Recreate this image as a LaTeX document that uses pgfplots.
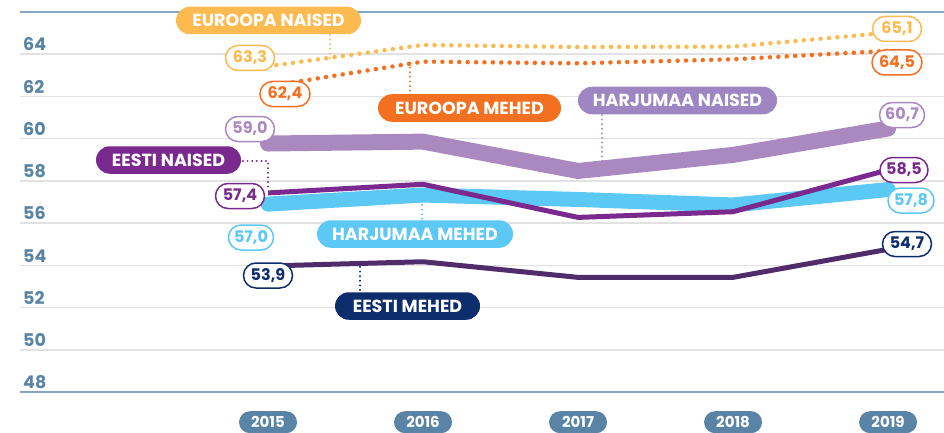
\documentclass[border=0pt]{standalone}
\usepackage{fontspec}
\setmainfont{Poppins}
\usepackage{pgfplots}
\pgfplotsset{compat=1.18}
\usetikzlibrary{shapes.misc}
\definecolor{axblue}{HTML}{5A84A6}
\definecolor{topline}{HTML}{86A6C0}
\definecolor{gridc}{HTML}{E2E2E2}
\definecolor{eurN}{HTML}{FDBA4F}
\definecolor{eurM}{HTML}{F37021}
\definecolor{harN}{HTML}{AA88C0}
\definecolor{harNpill}{HTML}{9D86C2}
\definecolor{harM}{HTML}{5CC8F4}
\definecolor{estN}{HTML}{7A2A8E}
\definecolor{estMline}{HTML}{512C6B}
\definecolor{estM}{HTML}{0D2D6C}
\tikzset{
 vlab/.style={draw=#1, text=#1, fill=white, line width=1.5pt, rounded rectangle, minimum height=25pt, inner xsep=3pt, inner ysep=0pt, font=\fontsize{16}{16}\selectfont\bfseries},
 npill/.style={fill=#1, text=white, rounded rectangle, minimum height=27.5pt, inner sep=0pt, font=\fontsize{17.5}{17.5}\selectfont\bfseries},
 lead/.style={draw=#1, line width=2.2pt, dash pattern=on 0pt off 4.6pt, line cap=round},
 dotl/.style={draw=#1, line width=4.5pt, dash pattern=on 0pt off 8.4pt, line cap=round, line join=round},
}
\begin{document}
\begin{tikzpicture}
\begin{axis}[
 at={(20pt,40pt)}, anchor=south west,
 scale only axis, width=924pt, height=380pt,
 xmin=2013.4, xmax=2019.361,
 ymin=48, ymax=66,
 axis line style={draw=none},
 major tick length=0pt,
 xtick={2015,2016,2017,2018,2019},
 xticklabel style={rounded rectangle, fill=axblue, text=white, minimum width=58pt, minimum height=22pt, inner sep=0pt, anchor=north, yshift=-19pt, font=\fontsize{15}{15}\selectfont\bfseries},
 ytick={50,52,54,56,58,60,62,64},
 ymajorgrids, grid style={gridc, line width=1.5pt},
 extra y ticks={48,66}, extra y tick labels={48,{}},
 extra y tick style={grid style={topline, line width=1.8pt}},
 yticklabel style={anchor=south west, text=axblue, font=\fontsize{17.5}{17.5}\selectfont\bfseries, inner sep=3pt},
 /pgf/number format/assume math mode=true,
 /pgf/number format/1000 sep={},
 clip=false,
]
% Harjumaa naised
\addplot[harN, line width=16pt, line cap=round, line join=round] coordinates {(2015,59.77) (2016,59.86) (2017,58.47) (2018,59.23) (2019,60.48)};
% Harjumaa mehed
\addplot[harM, line width=15pt, line cap=round, line join=round] coordinates {(2015,56.90) (2016,57.33) (2017,57.12) (2018,56.86) (2019,57.59)};
% Eesti naised
\addplot[estN, line width=5pt, line join=round] coordinates {(2015,57.43) (2016,57.84) (2017,56.27) (2018,56.54) (2019,58.52)};
% Eesti mehed
\addplot[estMline, line width=5pt, line join=round] coordinates {(2015,53.97) (2016,54.17) (2017,53.43) (2018,53.43) (2019,54.76)};
% Euroopa naised
\addplot[dotl=eurN] coordinates {(2015,63.43) (2016,64.44) (2017,64.34) (2018,64.36) (2019,65.02)};
% Euroopa mehed
\addplot[dotl=eurM] coordinates {(2015,62.48) (2016,63.65) (2017,63.57) (2018,63.76) (2019,64.16)};
\end{axis}
% leader lines
\draw[lead=eurN] (330pt,397pt) -- (330pt,374pt);
\draw[lead=eurM] (410pt,369pt) -- (410pt,339pt);
\draw[lead=harN] (602pt,317pt) -- (602pt,264pt);
\draw[lead=estN] (243pt,271pt) -- (268pt,271pt) -- (268pt,241pt);
\draw[lead=harM] (422pt,227pt) -- (422pt,213pt);
\draw[lead=estM] (360pt,165pt) -- (360pt,141pt);
% name pills
\node[npill=eurN, minimum width=185pt] at (268.5pt,411.5pt) {EUROOPA NAISED};
\node[npill=eurM, minimum width=183pt] at (469.5pt,324pt) {EUROOPA MEHED};
\node[npill=harNpill, minimum width=199pt] at (677.5pt,331.5pt) {HARJUMAA NAISED};
\node[npill=estN, minimum width=145pt] at (168.5pt,272pt) {EESTI NAISED};
\node[npill=harM, minimum width=196pt] at (415pt,198pt) {HARJUMAA MEHED};
\node[npill=estM, minimum width=145pt] at (407.5pt,126pt) {EESTI MEHED};
% value labels
\node[vlab=eurN, minimum width=55pt] at (250pt,374pt) {63,3};
\node[vlab=eurM, minimum width=56pt] at (285pt,338pt) {62,4};
\node[vlab=harN, minimum width=55pt] at (250pt,303pt) {59,0};
\node[vlab=estN, minimum width=55pt] at (240pt,236pt) {57,4};
\node[vlab=harM, minimum width=51pt] at (251pt,194.5pt) {57,0};
\node[vlab=estM, minimum width=55pt] at (268pt,156.5pt) {53,9};
\node[vlab=eurN, minimum width=55pt] at (897pt,403pt) {65,1};
\node[vlab=eurM, minimum width=56pt] at (897pt,369.5pt) {64,5};
\node[vlab=harN, minimum width=51pt] at (902pt,317pt) {60,7};
\node[vlab=estN, minimum width=54pt] at (904pt,262pt) {58,5};
\node[vlab=harM, minimum width=52pt] at (911pt,231.5pt) {57,8};
\node[vlab=estM, minimum width=55pt] at (907pt,188pt) {54,7};
\pgfresetboundingbox
\path[use as bounding box] (0pt,0pt) rectangle (944pt,432pt);
\end{tikzpicture}
\end{document}
